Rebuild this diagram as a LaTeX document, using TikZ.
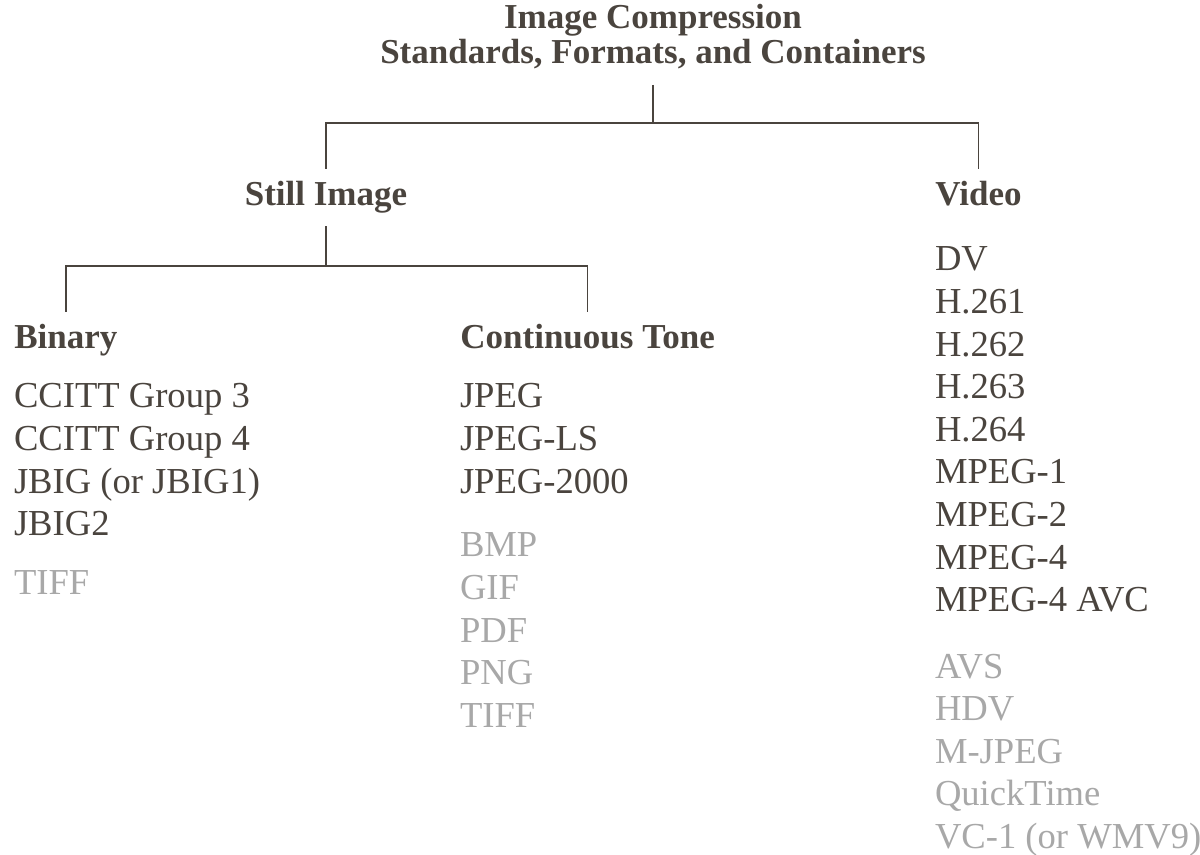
\documentclass[tikz,border=0pt]{standalone}
\usepackage{fontspec}
\setmainfont{Liberation Serif}
\usetikzlibrary{positioning}
\definecolor{inkdark}{RGB}{74,68,62}
\definecolor{inkgray}{RGB}{168,168,168}

\begin{document}
\begin{tikzpicture}[x=0.5pt,y=-0.5pt,
    heading/.style={font=\fontsize{17.5}{17.5}\selectfont\bfseries, text=inkdark, inner xsep=0pt, inner ysep=6pt},
    entry/.style={font=\fontsize{18.3}{18.3}\selectfont, text=inkdark, anchor=north west, inner xsep=0pt, inner ysep=1.9pt, outer sep=0pt, text height=13.5pt, text depth=4pt},
    container/.style={entry, text=inkgray},
    branch/.style={draw=inkdark, line width=0.6pt}]
    \useasboundingbox (0,0) rectangle (1200,855);

    \node[heading, align=center, anchor=south, inner ysep=8pt] (title) at (653,85) {Image Compression\\Standards, Formats, and Containers};
    \node[heading, anchor=base] (still) at (326,206) {Still Image};
    \node[heading, anchor=base west] (video) at (935,206) {Video};
    \node[heading, anchor=base west] (binary) at (14,349) {Binary};
    \node[heading, anchor=base west] (tone) at (460,349) {Continuous Tone};

    % tree lines
    \coordinate (topbar) at (title.south |- 0,123);
    \coordinate (stillbar) at (still.south |- 0,266);
    \draw[branch] (title.south) -- (topbar) -| (still.north);
    \draw[branch] (topbar) -| (video.north);
    \draw[branch] (still.south) -- (stillbar) -| (binary.north);
    \draw[branch] (stillbar) -| (tone.north);

    % binary
    \node[entry, anchor=base west] (ccitt3) at (14,408) {CCITT Group 3};
    \node[entry] (ccitt4) at (ccitt3.south west) {CCITT Group 4};
    \node[entry] (jbig) at (ccitt4.south west) {JBIG (or JBIG1)};
    \node[entry] (jbig2) at (jbig.south west) {JBIG2};
    \node[container, below=8.2pt of jbig2.south west, anchor=north west] (tiffb) {TIFF};

    % continuous tone
    \node[entry, anchor=base west] (jpeg) at (460,408) {JPEG};
    \node[entry] (jpegls) at (jpeg.south west) {JPEG-LS};
    \node[entry] (jpeg2k) at (jpegls.south west) {JPEG-2000};
    \node[container, below=10.6pt of jpeg2k.south west, anchor=north west] (bmp) {BMP};
    \node[container] (gif) at (bmp.south west) {GIF};
    \node[container] (pdf) at (gif.south west) {PDF};
    \node[container] (png) at (pdf.south west) {PNG};
    \node[container] (tifft) at (png.south west) {TIFF};

    % video
    \node[entry, anchor=base west] (dv) at (935,271) {DV};
    \node[entry] (h261) at (dv.south west) {H.261};
    \node[entry] (h262) at (h261.south west) {H.262};
    \node[entry] (h263) at (h262.south west) {H.263};
    \node[entry] (h264) at (h263.south west) {H.264};
    \node[entry] (mpeg1) at (h264.south west) {MPEG-1};
    \node[entry] (mpeg2) at (mpeg1.south west) {MPEG-2};
    \node[entry] (mpeg4) at (mpeg2.south west) {MPEG-4};
    \node[entry] (avc) at (mpeg4.south west) {MPEG-4 AVC};
    \node[container, below=11.8pt of avc.south west, anchor=north west] (avs) {AVS};
    \node[container] (hdv) at (avs.south west) {HDV};
    \node[container] (mjpeg) at (hdv.south west) {M-JPEG};
    \node[container] (qtime) at (mjpeg.south west) {QuickTime};
    \node[container] (vc1) at (qtime.south west) {VC-1 (or WMV9)};
\end{tikzpicture}
\end{document}
